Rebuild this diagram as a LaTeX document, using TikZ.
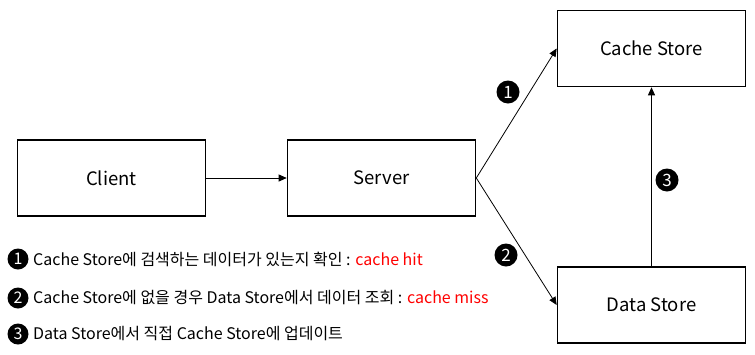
\documentclass[tikz,border=0pt]{standalone}
\usepackage{fontspec}
\setmainfont{Noto Sans CJK KR}
\usetikzlibrary{arrows.meta}
\begin{document}
\begin{tikzpicture}[x=1pt,y=-1pt,
  box/.style={draw,line width=1.6pt,minimum width=188pt,minimum height=76pt,inner sep=0pt,font=\fontsize{18.5}{20}\selectfont},
  arr/.style={line width=0.8pt,-{Triangle[length=8pt,width=7pt]}},
  num/.style={circle,fill=black,text=white,inner sep=0pt,minimum size=23pt,font=\fontsize{17}{17}\selectfont},
  lnum/.style={circle,fill=black,text=white,inner sep=0pt,minimum size=21pt,font=\fontsize{16}{16}\selectfont},
  legend/.style={anchor=west,inner sep=0pt,font=\fontsize{16}{18}\selectfont}]
\useasboundingbox (0,0) rectangle (755,354);
\node[box] (client) at (111.5,178) {Client};
\node[box] (server) at (381.5,178) {Server};
\node[box] (cache) at (651.5,48.5) {Cache Store};
\node[box] (data) at (651.5,305) {Data Store};
\draw[arr] (client.east) -- (server.west);
\draw[arr] (server.east) -- (cache.west);
\draw[arr] (server.east) -- (data.west);
\draw[arr] (data.north) -- (cache.south);
\node[num] (n1) at (508,92) {1};
\node[num] (n2) at (506,255) {2};
\node[num] (n3) at (667,180) {3};
\node[lnum] (l1) at (18,259) {1};
\node[lnum] (l2) at (18,298) {2};
\node[lnum] (l3) at (18,334) {3};
\node[legend] (t1) at (33,259) {Cache Store에 검색하는 데이터가 있는지 확인 : \textcolor{red}{cache hit}};
\node[legend] (t2) at (33,298) {Cache Store에 없을 경우 Data Store에서 데이터 조회 : \textcolor{red}{cache miss}};
\node[legend] (t3) at (33,334) {Data Store에서 직접 Cache Store에 업데이트};
\end{tikzpicture}
\end{document}
